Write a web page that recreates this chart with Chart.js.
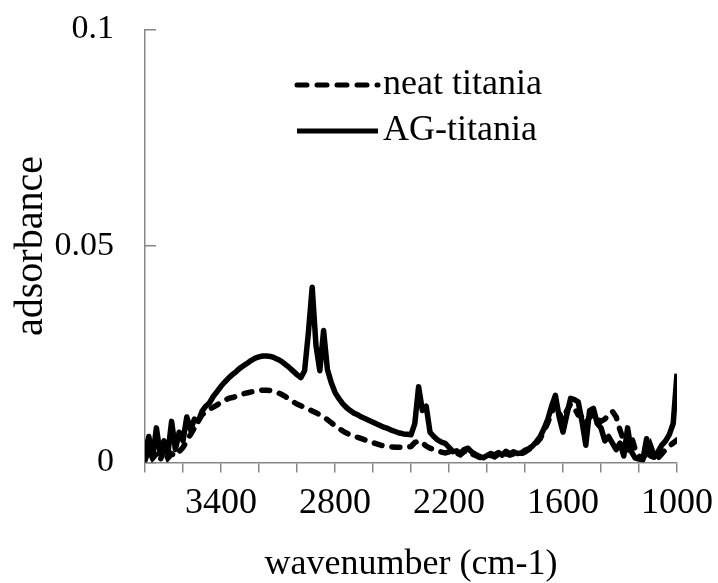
<!DOCTYPE html>
<html lang="en">
<head>
<meta charset="UTF-8">
<title>adsorbance</title>
<script src="https://cdn.jsdelivr.net/npm/chart.js"></script>
<style>
    body { margin: 0; background: #fff; }
    #spectrum { display: block; }
</style>
</head>
<body>
<canvas id="spectrum" width="718" height="583"></canvas>
<script>
    // wavenumber grid, cm-1 (3800 -> 1000, every 20)
    const wavenumber = [
        3800, 3780, 3760, 3740, 3720, 3700, 3680, 3660, 3640, 3620,
        3600, 3580, 3560, 3540, 3520, 3500, 3480, 3460, 3440, 3420,
        3400, 3380, 3360, 3340, 3320, 3300, 3280, 3260, 3240, 3220,
        3200, 3180, 3160, 3140, 3120, 3100, 3080, 3060, 3040, 3020,
        3000, 2980, 2960, 2940, 2920, 2900, 2880, 2860, 2840, 2820,
        2800, 2780, 2760, 2740, 2720, 2700, 2680, 2660, 2640, 2620,
        2600, 2580, 2560, 2540, 2520, 2500, 2480, 2460, 2440, 2420,
        2400, 2380, 2360, 2340, 2320, 2300, 2280, 2260, 2240, 2220,
        2200, 2180, 2160, 2140, 2120, 2100, 2080, 2060, 2040, 2020,
        2000, 1980, 1960, 1940, 1920, 1900, 1880, 1860, 1840, 1820,
        1800, 1780, 1760, 1740, 1720, 1700, 1680, 1660, 1640, 1620,
        1600, 1580, 1560, 1540, 1520, 1500, 1480, 1460, 1440, 1420,
        1400, 1380, 1360, 1340, 1320, 1300, 1280, 1260, 1240, 1220,
        1200, 1180, 1160, 1140, 1120, 1100, 1080, 1060, 1040, 1020,
        1000
    ];

    const neatTitania = [
        0.0005, 0.0030, 0.0010, 0.0020, 0.0005, 0.0030, 0.0010, 0.0020, 0.0015, 0.0025,
        0.0035, 0.0050, 0.0065, 0.0080, 0.0095, 0.0110, 0.0117, 0.0123, 0.0128, 0.0133,
        0.0139, 0.0144, 0.0148, 0.0150, 0.0153, 0.0156, 0.0159, 0.0161, 0.0163, 0.0165,
        0.0166, 0.0167, 0.0167, 0.0166, 0.0164, 0.0161, 0.0157, 0.0152, 0.0146, 0.0140,
        0.0135, 0.0131, 0.0127, 0.0123, 0.0119, 0.0115, 0.0110, 0.0105, 0.0099, 0.0092,
        0.0085, 0.0079, 0.0073, 0.0068, 0.0064, 0.0061, 0.0058, 0.0055, 0.0052, 0.0049,
        0.0046, 0.0043, 0.0040, 0.0038, 0.0037, 0.0036, 0.0035, 0.0035, 0.0035, 0.0035,
        0.0037, 0.0046, 0.0050, 0.0045, 0.0038, 0.0033, 0.0030, 0.0027, 0.0024, 0.0022,
        0.0024, 0.0020, 0.0022, 0.0018, 0.0025, 0.0028, 0.0020, 0.0016, 0.0012, 0.0010,
        0.0014, 0.0017, 0.0013, 0.0019, 0.0015, 0.0021, 0.0017, 0.0020, 0.0018, 0.0020,
        0.0024, 0.0030, 0.0035, 0.0045, 0.0055, 0.0072, 0.0092, 0.0115, 0.0135, 0.0115,
        0.0095, 0.0120, 0.0135, 0.0125, 0.0110, 0.0105, 0.0090, 0.0105, 0.0110, 0.0100,
        0.0095, 0.0100, 0.0110, 0.0118, 0.0105, 0.0075, 0.0050, 0.0035, 0.0060, 0.0030,
        0.0015, 0.0010, 0.0020, 0.0040, 0.0015, 0.0010, 0.0020, 0.0030, 0.0038, 0.0045,
        0.0052
    ];

    const agTitania = [
        0.0020, 0.0060, 0.0010, 0.0080, 0.0020, 0.0050, 0.0020, 0.0095, 0.0030, 0.0070,
        0.0050, 0.0105, 0.0075, 0.0100, 0.0095, 0.0118, 0.0130, 0.0138, 0.0153, 0.0164,
        0.0176, 0.0186, 0.0195, 0.0203, 0.0210, 0.0218, 0.0224, 0.0230, 0.0236, 0.0241,
        0.0244, 0.0246, 0.0246, 0.0245, 0.0242, 0.0238, 0.0233, 0.0226, 0.0219, 0.0211,
        0.0203, 0.0196, 0.0212, 0.0300, 0.0405, 0.0270, 0.0212, 0.0305, 0.0215, 0.0185,
        0.0162, 0.0148, 0.0136, 0.0127, 0.0120, 0.0114, 0.0110, 0.0105, 0.0101, 0.0097,
        0.0093, 0.0089, 0.0085, 0.0081, 0.0078, 0.0074, 0.0071, 0.0068, 0.0066, 0.0065,
        0.0064, 0.0090, 0.0175, 0.0120, 0.0130, 0.0070, 0.0060, 0.0052, 0.0047, 0.0044,
        0.0035, 0.0025, 0.0027, 0.0021, 0.0030, 0.0033, 0.0024, 0.0019, 0.0014, 0.0011,
        0.0016, 0.0021, 0.0017, 0.0023, 0.0017, 0.0026, 0.0020, 0.0025, 0.0021, 0.0022,
        0.0028, 0.0032, 0.0038, 0.0048, 0.0060, 0.0078, 0.0100, 0.0130, 0.0155, 0.0105,
        0.0070, 0.0110, 0.0148, 0.0145, 0.0140, 0.0095, 0.0040, 0.0120, 0.0125, 0.0090,
        0.0080, 0.0050, 0.0060, 0.0045, 0.0030, 0.0045, 0.0015, 0.0080, 0.0025, 0.0010,
        0.0008, 0.0006, 0.0055, 0.0015, 0.0012, 0.0025, 0.0040, 0.0050, 0.0065, 0.0090,
        0.0205
    ];

    const xTickLabels = [3400, 2800, 2200, 1600, 1000];
    const seriesNames = ['neat titania', 'AG-titania'];

    const serif = 'Liberation Serif';
    const axisGrey = '#878787';

    function points(values) {
        return wavenumber.map((w, i) => ({ x: w, y: values[i] }));
    }

    // legend drawn inside the plot, stacked, line sample then name
    const insideLegend = {
        id: 'insideLegend',
        afterDatasetsDraw(chart) {
            const ctx = chart.ctx;
            ctx.save();
            ctx.font = '36px "' + serif + '"';
            ctx.textBaseline = 'middle';
            ctx.fillStyle = '#000';
            chart.data.datasets.forEach((ds, i) => {
                const y = 85 + i * 46;
                ctx.beginPath();
                ctx.strokeStyle = ds.borderColor;
                ctx.lineWidth = 5;
                ctx.lineCap = ds.borderDash ? 'round' : 'butt';
                ctx.setLineDash(ds.borderDash ? [10, 10] : []);
                ctx.moveTo(297, y);
                ctx.lineTo(378, y);
                ctx.stroke();
                ctx.setLineDash([]);
                ctx.fillText(ds.label, 383, y);
            });
            ctx.restore();
        }
    };

    const ctx = document.getElementById('spectrum').getContext('2d');
    const spectrumChart = new Chart(ctx, {
        type: 'line',
        data: {
            datasets: [{
                label: seriesNames[0],
                data: points(neatTitania),
                borderColor: '#000',
                borderWidth: 5.5,
                borderDash: [8, 10],
                borderCapStyle: 'round',
                pointRadius: 0,
                tension: 0
            }, {
                label: seriesNames[1],
                data: points(agTitania),
                borderColor: '#000',
                borderWidth: 5.5,
                borderJoinStyle: 'round',
                pointRadius: 0,
                tension: 0
            }]
        },
        options: {
            responsive: false,
            animation: false,
            layout: { padding: { top: 29.5, right: 41, bottom: 0, left: 0 } },
            plugins: {
                legend: { display: false },
                tooltip: { enabled: false }
            },
            scales: {
                x: {
                    type: 'linear',
                    reverse: true,
                    min: 1000,
                    max: 3800,
                    ticks: {
                        stepSize: 200,
                        autoSkip: false,
                        maxRotation: 0,
                        padding: 9,
                        color: '#000',
                        font: { family: serif, size: 36 },
                        callback: v => xTickLabels.includes(v) ? String(v) : ''
                    },
                    grid: { drawOnChartArea: false, tickLength: 10, color: axisGrey, lineWidth: 1.5 },
                    border: { color: axisGrey, width: 1.5 },
                    title: {
                        display: true,
                        text: 'wavenumber (cm-1)',
                        color: '#000',
                        font: { family: serif, size: 36, lineHeight: 1 },
                        padding: 0
                    },
                    afterFit(scale) {
                        scale.height = 120.5;
                        scale.paddingLeft = 0;
                        scale.paddingRight = 0;
                    }
                },
                y: {
                    min: 0,
                    max: 0.1,
                    ticks: {
                        stepSize: 0.05,
                        padding: 42,
                        color: '#000',
                        font: { family: serif, size: 34 },
                        callback: v => String(+v.toFixed(2))
                    },
                    // negative length puts the marks inside the plot
                    grid: { drawOnChartArea: false, tickLength: -11, color: axisGrey, lineWidth: 1.5 },
                    border: { color: axisGrey, width: 1.5 },
                    title: {
                        display: true,
                        text: 'adsorbance',
                        color: '#000',
                        font: { family: serif, size: 40, lineHeight: 1.2 },
                        padding: { top: 7, bottom: 0 }
                    },
                    afterFit(scale) {
                        scale.width = 145;
                        scale.paddingTop = 0;
                        scale.paddingBottom = 0;
                    }
                }
            }
        },
        plugins: [insideLegend]
    });
</script>
</body>
</html>
